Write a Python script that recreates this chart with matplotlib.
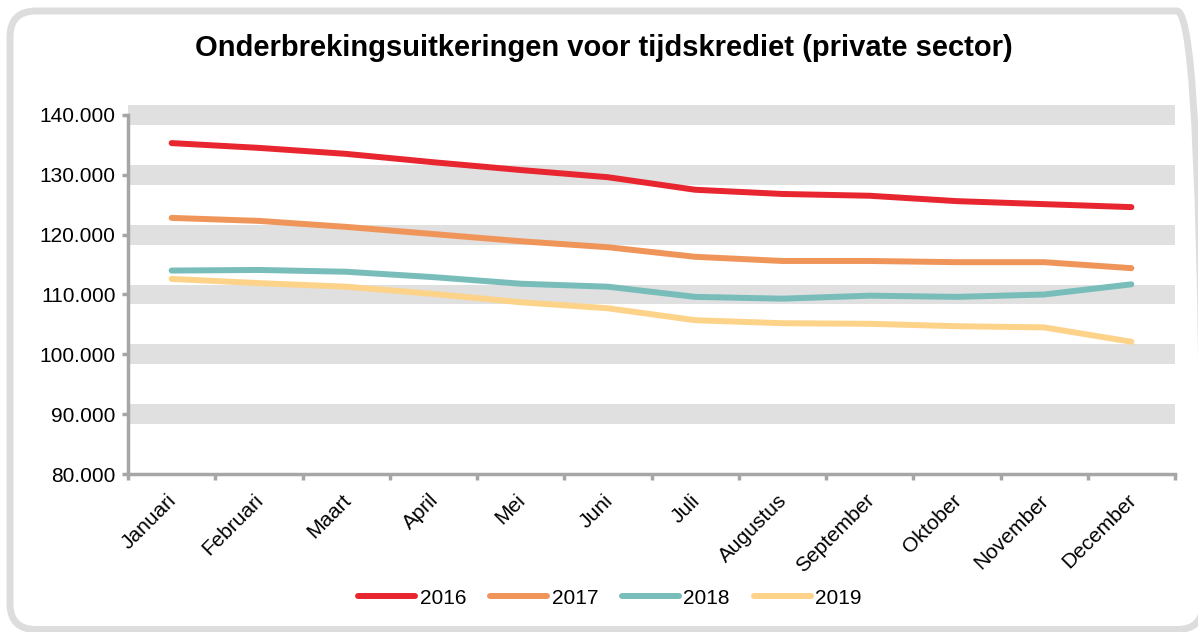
import numpy as np
import matplotlib.pyplot as plt
from matplotlib.patches import FancyBboxPatch
from matplotlib.ticker import FixedLocator, FuncFormatter
import matplotlib.transforms as mtransforms

plt.rcParams["font.family"] = ["Liberation Sans", "DejaVu Sans"]

months = ["Januari", "Februari", "Maart", "April", "Mei", "Juni", "Juli",
          "Augustus", "September", "Oktober", "November", "December"]
y2016 = [135.3, 134.5, 133.5, 132.1, 130.8, 129.6, 127.5, 126.8, 126.5, 125.6, 125.1, 124.6]
y2017 = [122.8, 122.3, 121.3, 120.1, 118.9, 117.9, 116.3, 115.6, 115.6, 115.4, 115.4, 114.4]
y2018 = [114.0, 114.1, 113.8, 112.9, 111.8, 111.3, 109.6, 109.3, 109.8, 109.6, 110.0, 111.7]
y2019 = [112.6, 111.9, 111.3, 110.1, 108.7, 107.7, 105.7, 105.2, 105.1, 104.7, 104.5, 102.1]
years = ["2016", "2017", "2018", "2019"]
colors = ["#E8262F", "#F0955A", "#78BDBA", "#FDD38A"]
gridvals = [90, 100, 110, 120, 130, 140]

fig = plt.figure(figsize=(11.98, 6.32), dpi=100)

# rounded outer frame, in pixel units
frame = FancyBboxPatch((10, 2.5), 1193, 618.5,
                       boxstyle="round,pad=0,rounding_size=26",
                       transform=mtransforms.IdentityTransform(), facecolor="none",
                       edgecolor="#DDDDDD", linewidth=5)
fig.patches.append(frame)

ax = fig.add_axes([128 / 1198, 1 - 474 / 632, (1175 - 128) / 1198, (474 - 104.8) / 632])
x = np.arange(len(months))

for v in gridvals:
    ax.axhspan(v - 1.65, v + 1.65, color="#E0E0E0", lw=0, zorder=0)

for vals, yr, c in zip([y2016, y2017, y2018, y2019], years, colors):
    ax.plot(x, vals, color=c, lw=4.3, solid_capstyle="round", label=yr, zorder=3)

ax.set_xlim(-0.5, 11.5)
ax.set_ylim(80, 141.7)
for s in ["top", "right"]:
    ax.spines[s].set_visible(False)
for s in ["left", "bottom"]:
    ax.spines[s].set_color("#A6A6A6")
    ax.spines[s].set_linewidth(2.5)
ax.spines["left"].set_bounds(80, 140)

ax.set_yticks(np.arange(80, 141, 10))
ax.yaxis.set_major_formatter(FuncFormatter(lambda v, p: f"{int(v)}.000"))
ax.tick_params(axis="y", length=4, width=2.5, color="#A6A6A6", labelsize=15, pad=5)

ax.set_xticks(x)
ax.set_xticklabels(months, rotation=45, ha="right", rotation_mode="anchor", fontsize=15)
ax.tick_params(axis="x", which="major", length=0, pad=12)
ax.xaxis.set_minor_locator(FixedLocator(np.arange(-0.5, 12, 1)))
ax.tick_params(axis="x", which="minor", length=4, width=2.5, color="#A6A6A6")
offset = mtransforms.ScaledTranslation(-5 / 100, 0, fig.dpi_scale_trans)
for lbl in ax.get_xticklabels():
    lbl.set_transform(lbl.get_transform() + offset)

fig.text(604 / 1198, 1 - 48 / 632, "Onderbrekingsuitkeringen voor tijdskrediet (private sector)",
         ha="center", va="center", fontsize=21, fontweight="bold")

fig.legend(loc="center", bbox_to_anchor=(610 / 1198, 1 - 598 / 632), ncol=4, frameon=False,
           fontsize=15, handlelength=2.75, handletextpad=0.2, columnspacing=1.15)

fig.savefig("out.png", dpi=100)
